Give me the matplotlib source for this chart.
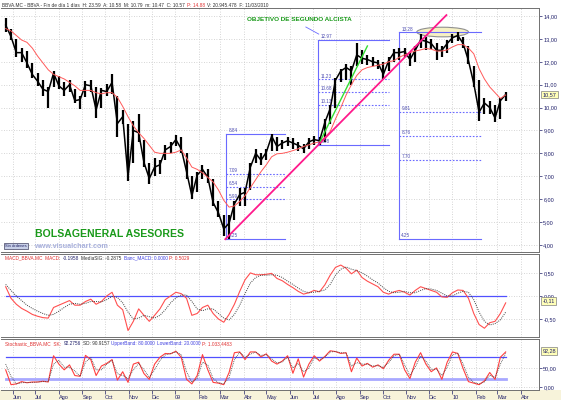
import numpy as np
import pandas as pd
import matplotlib
matplotlib.use('Agg')
import matplotlib.pyplot as plt
import matplotlib.dates as mdates
from matplotlib.patches import Ellipse, Rectangle
from matplotlib.ticker import FuncFormatter

plt.rcParams['font.family'] = ['Liberation Sans', 'DejaVu Sans']

# weekly samples (BBVA.MC, May 2008 - Mar 2010)
weeks = pd.date_range('2008-05-23', '2010-03-12', freq='7D')

close = [13.6, 13.1, 12.4, 12.4, 11.95, 11.45, 11.15, 10.8, 10.7, 11.5,
         10.95, 10.75, 11.0, 10.3, 10.35, 11.0, 10.95, 9.9, 10.75, 10.7,
         11.1, 9.3, 9.6, 7.0, 9.0, 8.9, 7.6, 6.9, 7.4, 7.5,
         8.15, 8.3, 8.6, 8.2, 7.2, 6.15, 7.05, 7.3, 6.95, 5.85,
         5.4, 4.7, 4.95, 5.8, 6.2, 6.3, 7.4, 8.0, 7.7, 8.05,
         8.75, 8.3, 8.45, 8.55, 8.45, 8.35, 8.2, 8.5, 8.6, 8.55,
         9.35, 9.95, 11.2, 11.6, 11.75, 11.6, 12.3, 12.15, 12.1, 12.0,
         11.95, 11.45, 12.05, 12.4, 12.4, 12.45, 12.1, 12.5, 12.95, 12.9,
         12.8, 12.5, 12.5, 12.8, 13.05, 13.15, 12.8, 12.05, 11.05, 9.8,
         10.2, 10.0, 9.55, 10.3, 10.57]
high = [13.9, 13.45, 13.0, 12.6, 12.45, 11.95, 11.5, 11.2, 10.9, 11.6,
        11.4, 11.1, 11.2, 10.8, 10.5, 11.15, 11.2, 10.9, 10.85, 11.05,
        11.45, 10.5, 9.9, 9.3, 9.4, 9.7, 8.6, 7.6, 7.8, 7.7,
        8.35, 8.5, 8.8, 8.7, 8.0, 7.0, 7.2, 7.5, 7.3, 6.9,
        5.9, 5.3, 5.3, 5.9, 6.5, 6.5, 7.6, 8.2, 8.0, 8.2,
        8.84, 8.7, 8.6, 8.7, 8.65, 8.5, 8.4, 8.65, 8.75, 8.7,
        9.5, 10.1, 11.3, 11.7, 11.9, 11.8, 12.8, 12.5, 12.3, 12.2,
        12.1, 12.0, 12.2, 12.55, 12.6, 12.6, 12.4, 12.7, 13.2, 13.1,
        13.0, 12.8, 12.7, 12.95, 13.2, 13.28, 13.1, 12.7, 11.8, 11.2,
        10.4, 10.3, 10.1, 10.4, 10.7]
low = [13.3, 12.95, 12.2, 12.0, 11.75, 11.3, 10.95, 10.5, 10.0, 10.9,
       10.8, 10.5, 10.7, 10.2, 9.95, 10.45, 10.7, 9.55, 10.0, 10.5,
       10.6, 8.7, 9.3, 6.8, 7.6, 8.5, 7.4, 6.65, 7.0, 7.1,
       7.7, 8.0, 8.3, 8.0, 6.9, 6.0, 6.3, 6.9, 6.7, 5.7,
       5.2, 4.4, 4.25, 5.1, 5.7, 5.7, 6.4, 7.6, 7.5, 7.7,
       8.1, 8.1, 8.2, 8.3, 8.2, 8.1, 8.0, 8.2, 8.35, 8.38,
       8.5, 9.3, 10.0, 11.1, 11.2, 11.0, 11.8, 11.9, 11.85, 11.8,
       11.7, 11.25, 11.6, 12.0, 12.1, 12.2, 11.8, 12.0, 12.6, 12.5,
       12.55, 12.1, 12.2, 12.4, 12.8, 12.9, 12.6, 11.9, 10.9, 9.4,
       9.7, 9.7, 9.35, 9.5, 10.3]
mavg = [13.45, 13.35, 13.15, 12.95, 12.85, 12.6, 12.25, 11.95, 11.65, 11.45,
        11.35, 11.25, 11.1, 10.95, 10.75, 10.75, 10.75, 10.65, 10.6, 10.65,
        10.65, 10.45, 10.05, 9.6, 9.2, 8.9, 8.65, 8.35, 8.05, 8.0,
        8.0, 8.0, 8.05, 8.15, 7.8, 7.4, 7.3, 7.15, 6.95, 6.75,
        6.4, 5.95, 5.65, 5.7, 5.9, 6.15, 6.5, 6.85, 7.2, 7.5,
        7.85, 7.98, 8.0, 8.05, 8.12, 8.2, 8.3, 8.37, 8.45, 8.5,
        8.7, 8.95, 9.5, 10.0, 10.55, 11.0, 11.4, 11.65, 11.75, 11.8,
        11.85, 11.9, 12.0, 12.05, 12.2, 12.3, 12.4, 12.47, 12.52, 12.58,
        12.55, 12.47, 12.47, 12.52, 12.65, 12.75, 12.75, 12.6, 12.35, 11.7,
        11.25, 10.9, 10.65, 10.4, 10.55]

macd = [0.2, -0.05, -0.18, -0.27, -0.33, -0.4, -0.44, -0.47, -0.48, -0.25,
        -0.2, -0.15, -0.1, -0.2, -0.2, -0.12, -0.07, -0.18, -0.12, 0.0,
        0.08, -0.2, -0.3, -0.75, -0.55, -0.28, -0.42, -0.55, -0.42, -0.28,
        -0.08, 0.0, 0.08, 0.05, -0.05, -0.42, -0.38, -0.25, -0.2, -0.38,
        -0.5, -0.57, -0.4, -0.18, 0.1, 0.35, 0.5, 0.46, 0.46, 0.47,
        0.49, 0.38, 0.33, 0.25, 0.18, 0.1, 0.04, 0.07, 0.12, 0.09,
        0.24, 0.45, 0.62, 0.67, 0.6, 0.48, 0.56, 0.4, 0.32, 0.26,
        0.2, 0.08, 0.04, 0.09, 0.12, 0.08, 0.02, 0.12, 0.2, 0.16,
        0.12, 0.08, -0.02, -0.03, 0.07, 0.13, 0.12, -0.05, -0.38, -0.62,
        -0.7, -0.58, -0.55, -0.38, -0.15]
macd_sig = [0.25, 0.12, 0.0, -0.1, -0.2, -0.27, -0.33, -0.38, -0.42, -0.4,
            -0.33, -0.25, -0.18, -0.16, -0.18, -0.16, -0.12, -0.12, -0.13, -0.08,
            -0.01, -0.03, -0.15, -0.35, -0.5, -0.48, -0.42, -0.45, -0.48, -0.42,
            -0.3, -0.15, -0.04, 0.02, 0.02, -0.12, -0.28, -0.32, -0.28, -0.28,
            -0.38, -0.48, -0.52, -0.4, -0.2, 0.05, 0.28, 0.4, 0.45, 0.45,
            0.46, 0.45, 0.4, 0.32, 0.25, 0.17, 0.1, 0.07, 0.08, 0.1,
            0.13, 0.25, 0.45, 0.58, 0.63, 0.58, 0.55, 0.5, 0.43, 0.35,
            0.28, 0.18, 0.1, 0.07, 0.08, 0.1, 0.07, 0.07, 0.12, 0.16,
            0.15, 0.12, 0.06, 0.0, 0.0, 0.06, 0.1, 0.08, -0.08, -0.35,
            -0.55, -0.63, -0.6, -0.52, -0.35]

stoch_k = [45, 6, 8, 14, 11, 13, 13, 15, 13, 82,
           60, 45, 58, 30, 28, 83, 72, 30, 55, 62,
           72, 18, 40, 12, 60, 65, 35, 20, 60, 78,
           88, 87, 94, 78, 20, 8, 30, 85, 45, 12,
           10, 6, 38, 90, 92, 72, 92, 92, 79, 87,
           68, 60, 68, 82, 36, 74, 26, 60, 82, 68,
           80, 95, 93, 88, 90, 40, 76, 55, 62, 52,
           58, 48, 70, 86, 86, 45, 22, 65, 90, 60,
           40, 50, 20, 65, 92, 88, 48, 14, 10, 6,
           16, 38, 20, 78, 92]
stoch_d = [60, 28, 8, 11, 12, 12, 13, 14, 14, 60,
           70, 52, 52, 42, 28, 65, 78, 45, 45, 60,
           70, 35, 30, 22, 45, 62, 45, 25, 45, 70,
           84, 88, 92, 85, 40, 12, 22, 65, 58, 22,
           11, 8, 25, 72, 91, 78, 86, 92, 83, 85,
           74, 63, 66, 78, 50, 62, 40, 50, 76, 72,
           78, 92, 93, 90, 89, 55, 64, 60, 60, 55,
           56, 51, 64, 82, 86, 58, 30, 52, 82, 68,
           46, 47, 30, 52, 84, 89, 60, 25, 12, 8,
           13, 31, 25, 60, 88]

months = pd.date_range('2008-06-01', '2010-04-01', freq='MS')
month_labels = ['Jun', 'Jul', 'Ago', 'Sep', 'Oct', 'Nov', 'Dic', '09', 'Feb', 'Mar', 'Abr', 'May',
                'Jun', 'Jul', 'Ago', 'Sep', 'Oct', 'Nov', 'Dic', '10', 'Feb', 'Mar', 'Abr']

# fibonacci boxes: start date, end date, levels (top, 38.2, 50, 61.8, bottom)
fib_start = ['2009-03-09', '2009-07-08', '2009-10-22']
fib_end = ['2009-05-26', '2009-10-09', '2010-02-07']
fib_levels = [[8.84, 7.09, 6.54, 5.99, 4.25],
              [12.97, 11.23, 10.68, 10.13, 8.38],
              [13.28, 9.81, 8.76, 7.70, 4.25]]

pink_dates = ['2009-03-08', '2009-12-24']
pink_vals = [4.25, 14.04]
green_dates = ['2009-07-11', '2009-09-11']
green_vals = [8.54, 12.69]

navy = '#20206a'
fib_col = '#6a6aff'

fig = plt.figure(figsize=(5.61, 4.0), dpi=100)
ax1 = fig.add_axes([0.002, 0.37, 0.959, 0.61])
ax2 = fig.add_axes([0.002, 0.1575, 0.959, 0.2075], sharex=ax1)
ax3 = fig.add_axes([0.002, 0.025, 0.959, 0.1275], sharex=ax1)

# bottom date strip
fig.patches.append(Rectangle((0, 0), 1, 0.025, transform=fig.transFigure,
                             facecolor='#f7f3da', edgecolor='none', zorder=-5))

comma = FuncFormatter(lambda v, p: ('%.2f' % v).replace('.', ','))
for ax in (ax1, ax2, ax3):
    ax.set_facecolor('white')
    ax.grid(True, color='#c8c8c8', linestyle=(0, (1, 2)), linewidth=0.6)
    ax.yaxis.tick_right()
    ax.yaxis.set_major_formatter(comma)
    ax.tick_params(axis='y', labelsize=4, colors=navy, length=2, width=0.5, pad=1)
    ax.tick_params(axis='x', length=0, labelbottom=False)
    ax.spines['left'].set_visible(False)
    for s in ('top', 'bottom', 'right'):
        ax.spines[s].set_color('#707070')
        ax.spines[s].set_linewidth(0.7)
    ax.set_xticks(months)

ax1.set_xlim(pd.Timestamp('2008-05-17'), pd.Timestamp('2010-04-25'))

# ---- price pane
ax1.set_ylim(3.69, 14.35)
ax1.set_yticks(range(4, 15))

ell_c = pd.Timestamp('2009-12-19')
ax1.add_patch(Ellipse((mdates.date2num(ell_c), 13.3), 68, 0.42, facecolor='#f6f1c4',
                      edgecolor='#909090', linewidth=0.8, zorder=2))

for st, en, lv in zip(fib_start, fib_end, fib_levels):
    st = pd.Timestamp(st)
    en = pd.Timestamp(en)
    ax1.plot([st, st], [lv[-1], lv[0]], color=fib_col, lw=0.8, zorder=3)
    for i, v in enumerate(lv):
        ls = '-' if i in (0, len(lv) - 1) else (0, (1.5, 1.5))
        ax1.plot([st, en], [v, v], color=fib_col, lw=0.8, ls=ls, zorder=3)
        ax1.annotate('%.2f' % v, xy=(st, v), xytext=(2, 0.6), textcoords='offset points',
                     fontsize=3.3, color='#4a4ab0', va='bottom', ha='left', zorder=6)

ax1.vlines(weeks, low, high, color='black', lw=1.6, zorder=4)
ax1.plot(weeks, close, color='black', lw=1.1, zorder=4)
ax1.plot(weeks, mavg, color='#ff5a5a', lw=0.7, zorder=5)

ax1.plot(pd.to_datetime(pink_dates), pink_vals, color='#ff1a8c', lw=1.3, zorder=6)
ax1.plot(pd.to_datetime(green_dates), green_vals, color='#33dd33', lw=1.0, zorder=6)

ax1.text(pd.Timestamp('2009-04-05'), 13.83, 'OBJETIVO DE SEGUNDO ALCISTA', color='#1a9a1a',
         fontsize=4.6, fontweight='bold', va='center', ha='left', zorder=7)
ax1.plot(pd.to_datetime(['2009-06-22', '2009-07-09']), [13.52, 13.21], color=fib_col, lw=0.6)

ax1.text(0.063, 0.074, 'BOLSAGENERAL ASESORES', transform=ax1.transAxes, color='#1a9a1a',
         fontsize=7.6, fontweight='bold', va='center', ha='left')
ax1.text(0.008, 0.024, 'Sin órdenes', transform=ax1.transAxes, fontsize=3, color='#202060',
         va='center', ha='left',
         bbox=dict(boxstyle='square,pad=0.3', fc='#c8d0e8', ec='#404060', lw=0.5))
ax1.text(0.062, 0.024, 'www.visualchart.com', transform=ax1.transAxes, fontsize=5.2,
         fontweight='bold', color='#a8b0dc', va='center', ha='left')

box = dict(boxstyle='square,pad=0.2', fc='#ffffb8', ec='#808080', lw=0.5)
ax1.annotate(('%.2f' % close[-1]).replace('.', ','), xy=(1, close[-1]),
             xycoords=('axes fraction', 'data'), xytext=(2.5, 0), textcoords='offset points',
             fontsize=4, color=navy, va='center', ha='left', bbox=box, annotation_clip=False)

# ---- MACD pane
ax2.set_ylim(-0.89, 0.91)
ax2.set_yticks([-0.5, 0, 0.5])
ax2.plot([weeks[0], weeks[-1]], [0, 0], color='#5050ff', lw=0.9)
ax2.plot(weeks, macd, color='#ff5050', lw=0.8)
ax2.plot(weeks, macd_sig, color='#404040', lw=0.7, ls=(0, (1, 1.2)))
ax2.annotate('-0,11', xy=(1, -0.11), xycoords=('axes fraction', 'data'), xytext=(2.5, 0),
             textcoords='offset points', fontsize=4, color=navy, va='center', ha='left',
             bbox=box, annotation_clip=False)

# ---- stochastic pane
ax3.set_ylim(-8, 126)
ax3.set_yticks([0, 50])
ax3.plot([weeks[0], weeks[-1]], [80, 80], color='#5050ff', lw=0.9)
ax3.plot([weeks[0], weeks[-1]], [20, 20], color='#a8a8ff', lw=2.0)
ax3.plot(weeks, stoch_k, color='#ff4040', lw=0.8)
ax3.plot(weeks, stoch_d, color='#404040', lw=0.6, ls=(0, (1, 1.2)))
ax3.annotate('92,28', xy=(1, 94.7), xycoords=('axes fraction', 'data'), xytext=(2.5, 0),
             textcoords='offset points', fontsize=4, color=navy, va='center', ha='left',
             bbox=box, annotation_clip=False)

ax3.set_xticklabels(month_labels)
ax3.tick_params(axis='x', labelbottom=True, length=3, width=0.5, direction='out',
                labelsize=4, colors=navy, pad=0.5)
for lbl in ax3.get_xticklabels():
    lbl.set_ha('left')

renderer = fig.canvas.get_renderer()


def colored_line(ax, x, y, parts, size):
    # put coloured pieces one after the other on one baseline
    inv = ax.transAxes.inverted()
    for s, c in parts:
        t = ax.text(x, y, s, color=c, fontsize=size, transform=ax.transAxes,
                    va='baseline', ha='left')
        bb = t.get_window_extent(renderer=renderer)
        x = inv.transform((bb.x1 + 2, bb.y0))[0]


colored_line(ax1, 0.002, 1.006, [('BBVA.MC - BBVA - Fin de día 1 días  H: 23.59  A: 10.58  M: 10.79  m: 10.47  C: 10.57', '#303030'),
                                  ('P: 14.88', '#e03030'),
                                  ('V: 20.945.478  F: 11/03/2010', '#303030')], 3.4)
colored_line(ax2, 0.008, 0.93, [('MACD_BBVA.MC  MACD:', '#e03030'), ('-0.1958', navy),
                                 ('MediaSIG: -0.2875', '#303030'),
                                 ('Banc_MACD: 0.0000', '#4040e0'), ('P: 0.5029', '#e03030')], 3.4)
colored_line(ax3, 0.008, 0.88, [('Stochastic_BBVA.MC  SK:', '#e03030'), ('92.2756', navy),
                                 ('SD: 90.9157', '#303030'),
                                 ('UpperBand: 80.0000', '#4040e0'), ('LowerBand: 20.0000', '#4040e0'),
                                 ('P: 1.033,4483', '#e03030')], 3.4)

fig.savefig('out.png', dpi=100)
